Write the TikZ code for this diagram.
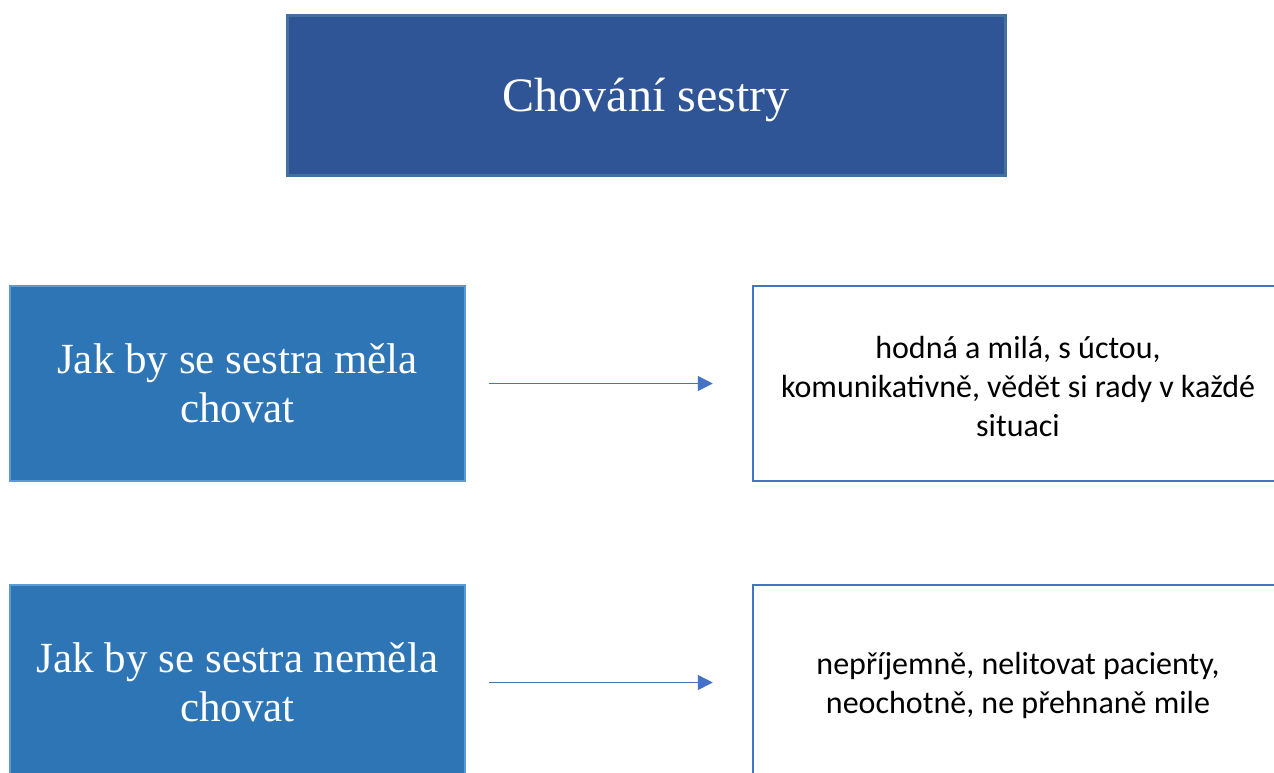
\documentclass[tikz,border=0pt]{standalone}
\usepackage{fontspec}
\setmainfont{Liberation Serif}
\newfontfamily\calibri{Carlito}
\usetikzlibrary{arrows.meta}
\definecolor{titlefill}{HTML}{2F5597}
\definecolor{titleline}{HTML}{41719C}
\definecolor{leftfill}{HTML}{2E75B6}
\definecolor{leftline}{HTML}{5B9BD5}
\definecolor{accent}{HTML}{4472C4}
\tikzset{
  titlebox/.style={draw=titleline, line width=3pt, fill=titlefill,
    minimum width=718pt, minimum height=160pt, inner sep=0pt},
  titletext/.style={text=white, inner sep=0pt, font=\fontsize{48}{58}\selectfont},
  questionbox/.style={draw=leftline, line width=1.5pt, fill=leftfill, text=white,
    minimum width=455pt, minimum height=195pt, inner sep=0pt, align=center,
    font=\fontsize{43}{49}\selectfont},
  answerbox/.style={draw=accent, line width=2.5pt, fill=white,
    minimum width=530pt, minimum height=195pt, inner sep=0pt},
  answertext/.style={text=black, inner sep=0pt, align=center,
    font=\calibri\fontsize{32}{39}\selectfont},
  linkarrow/.style={draw=accent, line width=1.5pt,
    -{Triangle[length=15pt,width=15pt]}, shorten <=23pt, shorten >=39pt}
}
\begin{document}
\begin{tikzpicture}[x=1pt,y=-1pt]
  \useasboundingbox (0,0) rectangle (1274,772);
  \clip (0,0) rectangle (1274,772);
  \fill[white] (0,0) rectangle (1274,772);

  % heading
  \node[titlebox] (title) at (646,95) {};
  \node[titletext] (titlelabel) at ([yshift=-5pt]title.center) {Chování sestry};

  % first row
  \node[questionbox] (q1) at (237.5,383.5) {Jak by se sestra měla\\chovat};
  \node[answerbox] (a1) at (1018,383.5) {};
  \node[answertext] (a1label) at ([yshift=-3pt]a1.center)
    {hodná a milá, s úctou,\\komunikativně, vědět si rady v každé\\situaci};

  % second row
  \node[questionbox] (q2) at (237.5,682.5) {Jak by se sestra neměla\\chovat};
  \node[answerbox] (a2) at (1018,682.5) {};
  \node[answertext] (a2label) at ([yshift=-2.5pt]a2.center)
    {nepříjemně, nelitovat pacienty,\\neochotně, ne přehnaně mile};

  \draw[linkarrow] (q1) -- (a1);
  \draw[linkarrow] (q2) -- (a2);
\end{tikzpicture}
\end{document}
